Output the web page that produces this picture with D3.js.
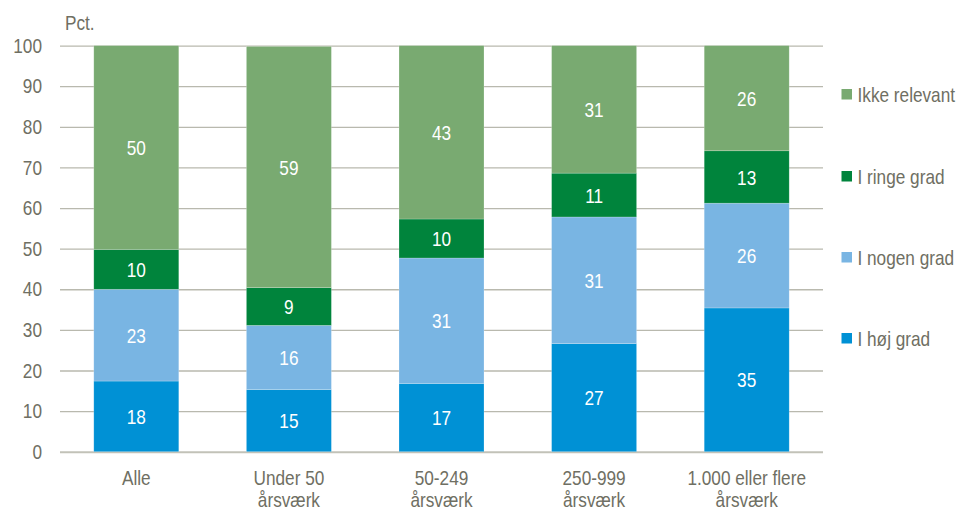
<!DOCTYPE html>
<html>
<head>
<meta charset="utf-8">
<script src="https://cdn.jsdelivr.net/npm/d3@7"></script>
<style>
  html, body { margin: 0; padding: 0; background: #fff; }
  svg { display: block; }
  text { font-family: "Liberation Sans Narrow", "Arial Narrow", "Liberation Sans", Arial, sans-serif; }
</style>
</head>
<body>
<svg id="chart" width="968" height="513"></svg>
<script>
// Data
const categories = [["Alle"], ["Under 50", "årsværk"], ["50-249", "årsværk"], ["250-999", "årsværk"], ["1.000 eller flere", "årsværk"]];
const seriesNames = ["I høj grad", "I nogen grad", "I ringe grad", "Ikke relevant"];
const hojGrad    = [17.4, 15.3, 16.8, 26.6, 35.4];
const nogenGrad  = [22.6, 15.8, 30.9, 31.2, 25.8];
const ringeGrad  = [9.8, 9.3, 9.6, 10.8, 12.9];
const ikkeRelevant = [50.2, 59.4, 42.7, 31.4, 25.9];
const labels = [
  [18, 15, 17, 27, 35],
  [23, 16, 31, 31, 26],
  [10, 9, 10, 11, 13],
  [50, 59, 43, 31, 26]
];
const yTicks = [0, 10, 20, 30, 40, 50, 60, 70, 80, 90, 100];
const colors = ["#0091d5", "#79b5e3", "#00843c", "#79aa71"];

const svg = d3.select("#chart");
const mLeft = 60, mRight = 823, mTop = 45.6, mBottom = 451.7;
const fs = "21px";

const x = d3.scaleBand().domain(d3.range(categories.length)).range([mLeft, mRight]).paddingInner(0.443).paddingOuter(0.2215);
const y = d3.scaleLinear().domain([0, 100]).range([mBottom, mTop]);

const textColor = "#6f6f63";

// gridlines
const yAxis = d3.axisLeft(y).tickValues(yTicks).tickSize(-(mRight - mLeft)).tickPadding(18);
const gy = svg.append("g").attr("transform", `translate(${mLeft},0)`).call(yAxis);
gy.select(".domain").remove();
gy.selectAll(".tick line").attr("stroke", "#b9b9ae").attr("stroke-width", 1.3);
gy.selectAll(".tick").filter(d => d === 0).select("line").attr("stroke", "#c2c2b8").attr("stroke-width", 2);
gy.selectAll(".tick text").attr("fill", textColor).style("font-size", fs).attr("x", -18);

// stacked data
const series = [hojGrad, nogenGrad, ringeGrad, ikkeRelevant];
const rows = categories.map((c, i) => ({ i, v: series.map(s => s[i]) }));
const stack = d3.stack().keys([0, 1, 2, 3]).value((d, k) => d.v[k]);
const stacked = stack(rows);

const groups = svg.append("g").selectAll("g").data(stacked).join("g").attr("fill", (d, k) => colors[k]);
groups.selectAll("rect").data(d => d).join("rect")
  .attr("x", d => x(d.data.i))
  .attr("width", x.bandwidth())
  .attr("y", d => y(d[1]))
  .attr("height", d => y(d[0]) - y(d[1]))
  .attr("stroke", "rgba(255,255,255,0.35)")
  .attr("stroke-width", 0.6);

// labels
stacked.forEach((s, k) => {
  svg.append("g").selectAll("text").data(s).join("text")
    .attr("x", d => x(d.data.i) + x.bandwidth() / 2)
    .attr("y", d => y((d[0] + d[1]) / 2))
    .attr("dy", "0.36em")
    .attr("text-anchor", "middle")
    .attr("fill", "#fff")
    .style("font-size", fs)
    .text((d, i) => labels[k][i]);
});

// x labels
const xl = svg.append("g").selectAll("text").data(categories).join("text")
  .attr("text-anchor", "middle")
  .attr("fill", textColor)
  .style("font-size", fs)
  .attr("x", (d, i) => x(i) + x.bandwidth() / 2)
  .attr("y", 485);
xl.selectAll("tspan").data(d => d).join("tspan")
  .attr("x", function() { return d3.select(this.parentNode).attr("x"); })
  .attr("dy", (d, j) => j === 0 ? 0 : 22.5)
  .text(d => d);

// Pct label
svg.append("text").attr("x", 65).attr("y", 30).attr("fill", textColor).style("font-size", fs).text("Pct.");

// legend
const legendOrder = [3, 2, 1, 0];
const legendY = [94, 176, 257, 338];
const lg = svg.append("g").selectAll("g").data(legendOrder).join("g")
  .attr("transform", (d, j) => `translate(841.5,${legendY[j]})`);
lg.append("rect").attr("x", 0).attr("y", -5).attr("width", 10.5).attr("height", 10.5).attr("fill", d => colors[d]);
lg.append("text").attr("x", 16).attr("dy", "0.36em").attr("fill", textColor).style("font-size", fs).text(d => seriesNames[d]);

// emulate a narrow typeface by condensing glyphs horizontally around each anchor
const narrow = 0.82;
svg.selectAll("text").each(function() {
  const ax = +(this.getAttribute("x") || 0);
  d3.select(this).attr("transform", `translate(${ax * (1 - narrow)},0) scale(${narrow},1)`);
});
</script>
</body>
</html>
